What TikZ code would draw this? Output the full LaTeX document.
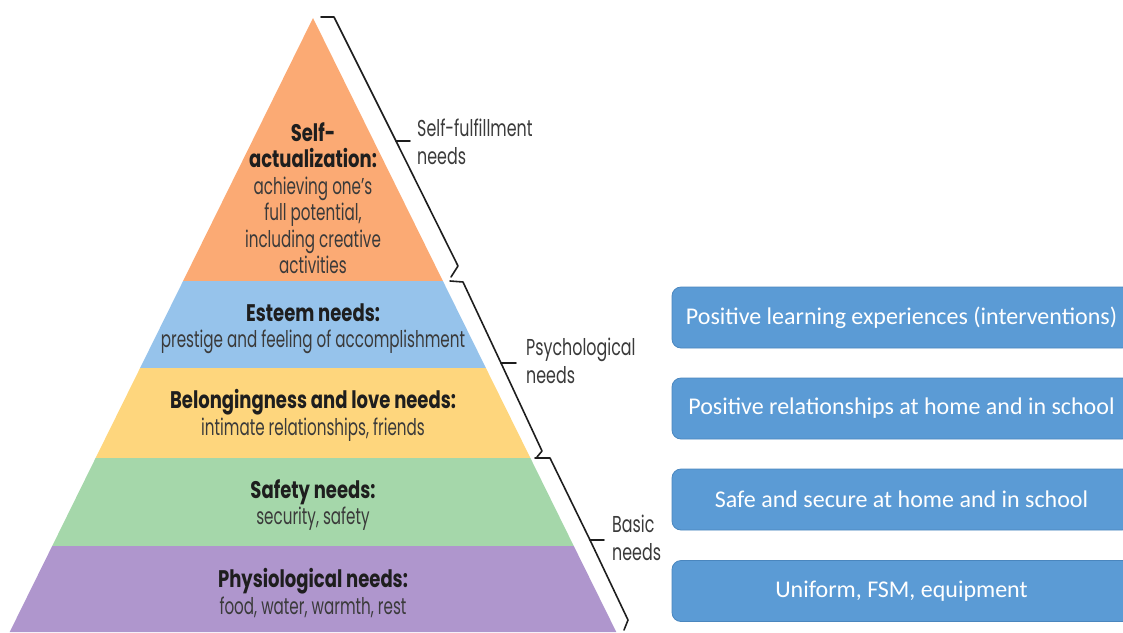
\documentclass[tikz,border=0pt]{standalone}
\usepackage{fontspec}
\newfontfamily\pyrfont[FakeStretch=0.66]{Poppins}
\newfontfamily\pyrbold[FakeStretch=0.75]{Poppins Bold}
\newfontfamily\lblfont[FakeStretch=0.69]{Poppins}
\newfontfamily\boxfont{Carlito}
\definecolor{cOrange}{HTML}{FBAA74}
\definecolor{cBlueL}{HTML}{96C3EB}
\definecolor{cYellow}{HTML}{FED67D}
\definecolor{cGreen}{HTML}{A5D7AA}
\definecolor{cPurple}{HTML}{AF96CD}
\definecolor{boxfill}{HTML}{5B9BD5}
\definecolor{boxborder}{HTML}{4A86BE}
\definecolor{inkdark}{HTML}{1E1E1E}
\definecolor{inksub}{HTML}{3A3A3A}
\newcommand{\ttl}[1]{{\pyrbold\fontsize{24}{26.5}\selectfont\textcolor{inkdark}{#1}}}
\begin{document}
\begin{tikzpicture}[x=1pt,y=-1pt,
  pyrtext/.style={font=\pyrfont\fontsize{23}{26.5}\selectfont, align=center, text=inksub, inner sep=0pt},
  bracelabel/.style={font=\lblfont\fontsize{23}{28}\selectfont, align=left, anchor=west, text=inksub, inner sep=0pt},
  bracket/.style={draw=inkdark, line width=1.6pt, line join=round, line cap=round},
  bluebox/.style={draw=boxborder, fill=boxfill, rounded corners=9pt, minimum width=459pt, minimum height=61pt, text=white, font=\boxfont\fontsize{24}{28}\selectfont, line width=0.8pt, inner sep=0pt}
]
\useasboundingbox (0,0) rectangle (1123,632);
\clip (0,0) rectangle (1123,632);
% pyramid layers
\fill[cOrange] (313,18) -- (442.9,281) -- (183.1,281) -- cycle;
\fill[cBlueL] (183.1,281) -- (442.9,281) -- (485.9,368) -- (140.1,368) -- cycle;
\fill[cYellow] (140.1,368) -- (485.9,368) -- (530.4,458) -- (95.6,458) -- cycle;
\fill[cGreen] (95.6,458) -- (530.4,458) -- (573.8,546) -- (52.2,546) -- cycle;
\fill[cPurple] (52.2,546) -- (573.8,546) -- (616.3,632) -- (9.7,632) -- cycle;
% pyramid texts
\node[pyrtext] (selfact) at (313,198) {\ttl{Self-}\\\ttl{actualization:}\\achieving one’s\\full potential,\\including creative\\activities};
\node[pyrtext] (esteem) at (313,328.5) {\ttl{Esteem needs:}\\prestige and feeling of accomplishment};
\node[pyrtext] (belong) at (313,415.5) {\ttl{Belongingness and love needs:}\\intimate relationships, friends};
\node[pyrtext] (safety) at (313,505) {\ttl{Safety needs:}\\security, safety};
\node[pyrtext] (physio) at (313,593) {\ttl{Physiological needs:}\\food, water, warmth, rest};
% braces
\draw[bracket] (321,17) -- (334,17) -- (396,141) -- (458,266) -- (451,277);
\draw[bracket] (396,141) -- (410,141);
\draw[bracket] (450,281) -- (463,282) -- (501,363) -- (542,451) -- (537,457);
\draw[bracket] (501,363) -- (516,363);
\draw[bracket] (535,458) -- (550,458) -- (590,540) -- (628,620) -- (624,630);
\draw[bracket] (590,540) -- (604,540);
% brace labels
\node[bracelabel] (lself) at (417,142) {Self-fulfillment\\needs};
\node[bracelabel] (lpsy) at (526,361) {Psychological\\needs};
\node[bracelabel] (lbasic) at (612,538) {Basic\\needs};
% blue boxes
\node[bluebox] (b1) at (901.5,317.5) {Positive learning experiences (interventions)};
\node[bluebox] (b2) at (901.5,408.5) {Positive relationships at home and in school};
\node[bluebox] (b3) at (901.5,499.5) {Safe and secure at home and in school};
\node[bluebox] (b4) at (901.5,591) {Uniform, FSM, equipment};
\end{tikzpicture}
\end{document}
